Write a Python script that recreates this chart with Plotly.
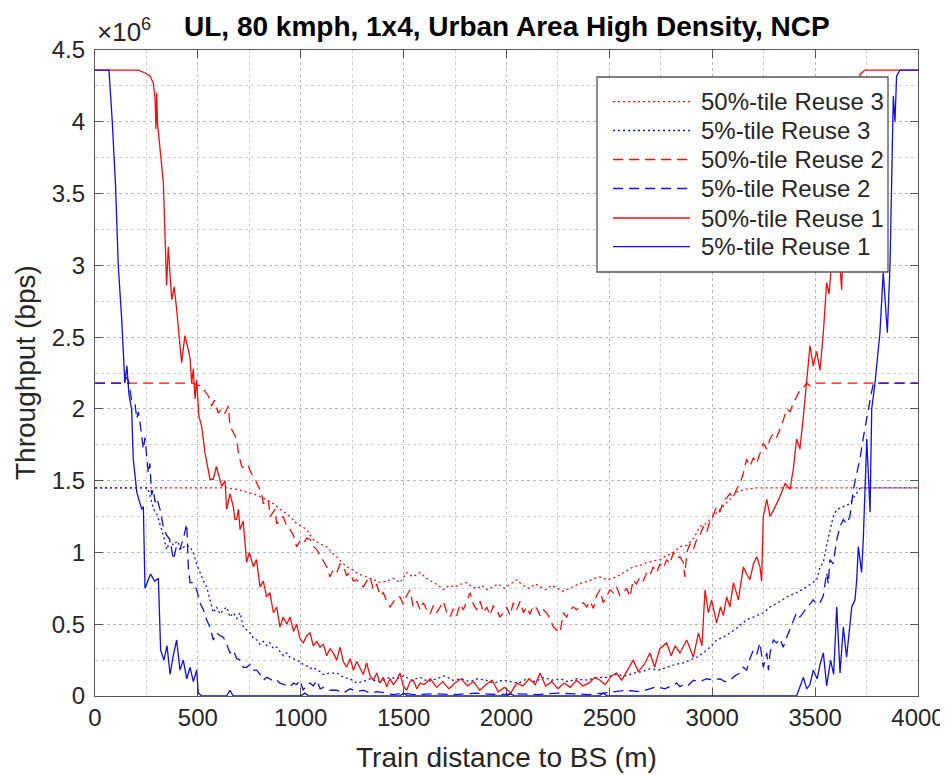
import numpy as np
import plotly.graph_objects as go

# ---------------- data (throughput in units of 1e6 bps, distance in m) ----------------
R3_50 = [(0, 1.45), (640, 1.45), (690, 1.44), (737, 1.42), (786, 1.40), (830, 1.37), (867, 1.34), (900, 1.30),
         (932, 1.27), (955, 1.24), (980, 1.20), (1005, 1.18), (1029, 1.16), (1045, 1.12), (1061, 1.09), (1094, 1.06),
         (1126, 1.04), (1150, 1.00), (1175, 0.97), (1200, 0.93), (1223, 0.90), (1250, 0.88), (1280, 0.85),
         (1320, 0.83), (1350, 0.81), (1385, 0.79), (1420, 0.80), (1450, 0.82), (1482, 0.79), (1515, 0.86),
         (1545, 0.83), (1580, 0.86), (1610, 0.82), (1645, 0.79), (1670, 0.77), (1693, 0.74), (1720, 0.77),
         (1750, 0.76), (1780, 0.78), (1807, 0.79), (1830, 0.76), (1860, 0.75), (1880, 0.77), (1904, 0.74),
         (1930, 0.76), (1960, 0.78), (1990, 0.75), (2020, 0.78), (2049, 0.81), (2080, 0.77), (2110, 0.75),
         (2140, 0.78), (2163, 0.76), (2190, 0.74), (2220, 0.77), (2250, 0.75), (2275, 0.73), (2293, 0.74),
         (2320, 0.76), (2350, 0.78), (2373, 0.79), (2400, 0.80), (2430, 0.82), (2454, 0.83), (2490, 0.81),
         (2535, 0.83), (2570, 0.86), (2616, 0.90), (2650, 0.91), (2681, 0.93), (2710, 0.94), (2746, 0.95),
         (2780, 0.98), (2811, 1.00), (2843, 1.04), (2876, 1.05), (2910, 1.10), (2940, 1.18), (2970, 1.20),
         (3005, 1.25), (3040, 1.30), (3086, 1.37), (3118, 1.42), (3160, 1.44), (3216, 1.45), (4000, 1.45)]

R3_5 = [(0, 1.45), (255, 1.45), (267, 1.40), (285, 1.30), (300, 1.27), (316, 1.20), (332, 1.12), (348, 1.02),
        (365, 1.08), (381, 1.05), (400, 1.08), (420, 1.02), (440, 1.05), (462, 1.04), (478, 1.00), (494, 0.92),
        (510, 0.86), (527, 0.80), (543, 0.76), (559, 0.67), (575, 0.58), (591, 0.62), (608, 0.57), (624, 0.60),
        (640, 0.62), (656, 0.55), (672, 0.58), (689, 0.54), (705, 0.58), (721, 0.48), (737, 0.46), (754, 0.44),
        (770, 0.40), (786, 0.39), (802, 0.36), (818, 0.38), (834, 0.35), (850, 0.37), (867, 0.33), (883, 0.34),
        (899, 0.31), (916, 0.28), (932, 0.30), (948, 0.27), (964, 0.26), (980, 0.25), (996, 0.24), (1012, 0.22),
        (1029, 0.21), (1045, 0.19), (1061, 0.20), (1078, 0.18), (1094, 0.17), (1110, 0.15), (1142, 0.16),
        (1175, 0.16), (1207, 0.13), (1240, 0.12), (1272, 0.09), (1300, 0.10), (1337, 0.12), (1370, 0.10),
        (1401, 0.11), (1434, 0.13), (1466, 0.12), (1500, 0.14), (1540, 0.11), (1580, 0.13), (1620, 0.10),
        (1660, 0.12), (1700, 0.14), (1740, 0.11), (1780, 0.12), (1820, 0.10), (1860, 0.12), (1900, 0.11),
        (1940, 0.09), (1980, 0.11), (2020, 0.10), (2060, 0.09), (2100, 0.12), (2140, 0.10), (2180, 0.13),
        (2220, 0.11), (2260, 0.12), (2300, 0.10), (2340, 0.12), (2380, 0.11), (2420, 0.12), (2454, 0.13),
        (2487, 0.13), (2530, 0.15), (2580, 0.14), (2620, 0.16), (2660, 0.17), (2697, 0.19), (2740, 0.18),
        (2778, 0.20), (2820, 0.22), (2859, 0.23), (2890, 0.25), (2924, 0.27), (2957, 0.30), (2989, 0.34),
        (3021, 0.39), (3054, 0.41), (3086, 0.44), (3118, 0.47), (3140, 0.50), (3167, 0.53), (3200, 0.55),
        (3248, 0.58), (3281, 0.62), (3320, 0.65), (3362, 0.69), (3410, 0.72), (3459, 0.76), (3508, 0.81),
        (3524, 0.90), (3540, 0.93), (3556, 1.05), (3572, 1.16), (3588, 1.25), (3605, 1.30), (3637, 1.32),
        (3669, 1.34), (3686, 1.38), (3702, 1.41), (3720, 1.45), (4000, 1.45)]

R2_50 = [(0, 2.18), (480, 2.18), (486, 2.17), (518, 2.16), (535, 2.12), (551, 2.09), (567, 2.02), (580, 2.06),
         (599, 1.97), (615, 2.00), (632, 1.97), (648, 2.02), (656, 1.88), (670, 1.84), (689, 1.79), (697, 1.69),
         (713, 1.60), (729, 1.58), (745, 1.60), (760, 1.55), (778, 1.51), (794, 1.46), (810, 1.41), (818, 1.34),
         (842, 1.37), (851, 1.25), (875, 1.30), (883, 1.20), (899, 1.22), (915, 1.25), (932, 1.18), (948, 1.16),
         (964, 1.12), (980, 1.04), (996, 1.08), (1012, 1.06), (1029, 1.10), (1045, 1.09), (1061, 1.04),
         (1078, 1.02), (1094, 0.98), (1110, 0.95), (1126, 0.90), (1142, 0.83), (1158, 0.88), (1175, 0.86),
         (1191, 0.92), (1207, 0.90), (1223, 0.84), (1240, 0.86), (1256, 0.80), (1272, 0.81), (1288, 0.78),
         (1304, 0.76), (1320, 0.80), (1337, 0.83), (1353, 0.74), (1369, 0.78), (1385, 0.70), (1401, 0.72),
         (1418, 0.66), (1434, 0.62), (1450, 0.66), (1466, 0.69), (1482, 0.69), (1498, 0.64), (1515, 0.70),
         (1531, 0.74), (1547, 0.62), (1564, 0.66), (1580, 0.60), (1596, 0.65), (1612, 0.60), (1628, 0.57),
         (1645, 0.63), (1661, 0.58), (1677, 0.62), (1693, 0.66), (1710, 0.58), (1726, 0.55), (1742, 0.61),
         (1758, 0.56), (1774, 0.64), (1790, 0.60), (1807, 0.66), (1823, 0.72), (1839, 0.64), (1855, 0.60),
         (1872, 0.66), (1888, 0.58), (1904, 0.62), (1920, 0.56), (1936, 0.63), (1952, 0.60), (1968, 0.55),
         (1985, 0.58), (2001, 0.62), (2017, 0.56), (2033, 0.65), (2049, 0.60), (2066, 0.66), (2082, 0.58),
         (2098, 0.62), (2114, 0.57), (2130, 0.63), (2147, 0.61), (2163, 0.56), (2179, 0.60), (2195, 0.58),
         (2211, 0.54), (2228, 0.48), (2244, 0.46), (2260, 0.44), (2276, 0.58), (2292, 0.55), (2309, 0.60),
         (2325, 0.62), (2341, 0.60), (2357, 0.63), (2373, 0.65), (2390, 0.62), (2406, 0.66), (2422, 0.61),
         (2438, 0.70), (2454, 0.74), (2470, 0.65), (2487, 0.70), (2503, 0.74), (2519, 0.72), (2535, 0.76),
         (2551, 0.70), (2568, 0.72), (2584, 0.75), (2600, 0.69), (2616, 0.81), (2632, 0.78), (2649, 0.83),
         (2665, 0.80), (2681, 0.86), (2697, 0.84), (2713, 0.90), (2730, 0.86), (2746, 0.92), (2762, 0.89),
         (2778, 0.95), (2794, 0.92), (2811, 1.00), (2827, 0.96), (2843, 0.97), (2859, 0.93), (2867, 0.83),
         (2876, 1.00), (2892, 1.06), (2908, 1.02), (2924, 1.09), (2940, 1.12), (2957, 1.18), (2973, 1.14),
         (2989, 1.22), (3005, 1.26), (3021, 1.32), (3037, 1.28), (3054, 1.36), (3070, 1.38), (3086, 1.41),
         (3102, 1.38), (3118, 1.44), (3135, 1.48), (3151, 1.55), (3167, 1.65), (3183, 1.60), (3200, 1.66),
         (3216, 1.62), (3232, 1.69), (3248, 1.76), (3265, 1.72), (3281, 1.79), (3297, 1.83), (3313, 1.80),
         (3329, 1.86), (3345, 1.92), (3362, 2.00), (3378, 1.98), (3394, 2.04), (3410, 2.08), (3426, 2.13),
         (3443, 2.15), (3459, 2.18), (3475, 2.16), (3491, 2.18), (4000, 2.18)]

R2_5 = [(0, 2.18), (135, 2.18), (150, 2.22), (162, 2.20), (178, 2.06), (194, 2.04), (203, 1.93), (211, 1.98),
        (219, 1.90), (227, 1.79), (235, 1.72), (243, 1.80), (251, 1.65), (259, 1.55), (267, 1.62), (275, 1.40),
        (283, 1.44), (292, 1.35), (300, 1.38), (316, 1.30), (332, 1.18), (348, 1.12), (364, 1.09), (381, 0.95),
        (397, 1.05), (413, 1.02), (430, 1.10), (446, 1.20), (454, 0.88), (462, 0.79), (478, 0.79), (494, 0.74),
        (510, 0.65), (527, 0.60), (543, 0.53), (559, 0.48), (575, 0.39), (591, 0.44), (608, 0.42), (624, 0.41),
        (640, 0.36), (656, 0.30), (672, 0.32), (689, 0.26), (705, 0.25), (721, 0.20), (737, 0.20), (754, 0.22),
        (770, 0.18), (786, 0.18), (802, 0.15), (818, 0.11), (834, 0.13), (850, 0.12), (867, 0.10), (883, 0.11),
        (899, 0.09), (916, 0.08), (932, 0.07), (948, 0.065), (964, 0.09), (980, 0.08), (996, 0.11), (1012, 0.04),
        (1029, 0.08), (1045, 0.09), (1061, 0.07), (1078, 0.11), (1094, 0.05), (1110, 0.06), (1142, 0.04),
        (1175, 0.04), (1207, 0.02), (1240, 0.05), (1272, 0.03), (1304, 0.04), (1337, 0.02), (1370, 0.03),
        (1418, 0.02), (1450, 0.01), (1500, 0.02), (1550, 0.01), (1650, 0.015), (1750, 0.01), (1850, 0.02),
        (1950, 0.01), (2050, 0.015), (2150, 0.01), (2250, 0.02), (2350, 0.01), (2400, 0.01), (2470, 0.02),
        (2530, 0.03), (2584, 0.04), (2650, 0.03), (2700, 0.05), (2730, 0.065), (2770, 0.05), (2800, 0.07),
        (2827, 0.09), (2843, 0.065), (2860, 0.08), (2880, 0.07), (2908, 0.11), (2940, 0.10), (2973, 0.12),
        (3005, 0.11), (3037, 0.12), (3060, 0.10), (3086, 0.11), (3110, 0.14), (3135, 0.16), (3151, 0.20),
        (3167, 0.18), (3183, 0.26), (3200, 0.32), (3216, 0.29), (3232, 0.37), (3248, 0.20), (3265, 0.30),
        (3273, 0.18), (3281, 0.30), (3297, 0.39), (3313, 0.37), (3329, 0.40), (3345, 0.34), (3362, 0.41),
        (3378, 0.47), (3394, 0.53), (3410, 0.58), (3426, 0.55), (3443, 0.58), (3459, 0.62), (3475, 0.64),
        (3491, 0.67), (3508, 0.64), (3524, 0.65), (3540, 0.70), (3556, 0.86), (3564, 0.78), (3572, 0.95),
        (3588, 0.92), (3605, 1.09), (3621, 1.18), (3637, 1.23), (3653, 1.20), (3669, 1.25), (3686, 1.44),
        (3702, 1.55), (3718, 1.65), (3734, 1.80), (3751, 1.95), (3767, 2.06), (3783, 2.18), (4000, 2.18)]

R1_50 = [(0, 4.36), (211, 4.36), (243, 4.34), (267, 4.32), (283, 4.27), (292, 4.16), (296, 3.95), (300, 4.20),
         (304, 3.98), (308, 3.93), (332, 3.58), (340, 3.18), (348, 2.86), (356, 3.13), (373, 2.76), (385, 2.85),
         (397, 2.69), (421, 2.32), (437, 2.51), (454, 2.41), (462, 2.35), (470, 2.18), (478, 2.28), (486, 2.07),
         (494, 2.20), (505, 1.95), (518, 1.88), (535, 1.69), (547, 1.60), (559, 1.51), (575, 1.51), (590, 1.60),
         (599, 1.55), (616, 1.46), (632, 1.50), (640, 1.30), (656, 1.41), (672, 1.32), (680, 1.23), (689, 1.23),
         (697, 1.30), (705, 1.16), (720, 1.22), (737, 0.93), (750, 1.00), (770, 0.90), (785, 0.95), (802, 0.76),
         (818, 0.80), (834, 0.69), (850, 0.72), (867, 0.58), (883, 0.62), (899, 0.48), (915, 0.55), (932, 0.50),
         (948, 0.55), (965, 0.45), (980, 0.50), (996, 0.40), (1012, 0.37), (1029, 0.42), (1045, 0.44),
         (1061, 0.35), (1078, 0.38), (1094, 0.34), (1110, 0.36), (1126, 0.28), (1142, 0.33), (1158, 0.30),
         (1175, 0.25), (1191, 0.34), (1207, 0.24), (1223, 0.20), (1240, 0.26), (1256, 0.18), (1272, 0.24),
         (1288, 0.20), (1304, 0.15), (1320, 0.23), (1337, 0.14), (1353, 0.11), (1369, 0.16), (1385, 0.09),
         (1401, 0.13), (1418, 0.065), (1434, 0.12), (1450, 0.08), (1466, 0.11), (1482, 0.16), (1498, 0.07),
         (1515, 0.04), (1531, 0.10), (1547, 0.11), (1564, 0.05), (1580, 0.09), (1600, 0.08), (1630, 0.12),
         (1660, 0.06), (1690, 0.10), (1720, 0.05), (1750, 0.09), (1780, 0.12), (1810, 0.07), (1840, 0.10),
         (1870, 0.04), (1900, 0.08), (1930, 0.11), (1960, 0.03), (1990, 0.06), (2020, 0.02), (2050, 0.09),
         (2080, 0.07), (2110, 0.12), (2140, 0.08), (2163, 0.16), (2190, 0.07), (2220, 0.10), (2250, 0.05),
         (2280, 0.09), (2310, 0.06), (2340, 0.11), (2370, 0.07), (2400, 0.09), (2430, 0.13), (2454, 0.11),
         (2480, 0.08), (2510, 0.14), (2535, 0.16), (2560, 0.11), (2590, 0.19), (2616, 0.25), (2640, 0.17),
         (2670, 0.22), (2697, 0.30), (2720, 0.20), (2745, 0.33), (2778, 0.37), (2800, 0.28), (2820, 0.35),
         (2843, 0.30), (2876, 0.39), (2908, 0.27), (2933, 0.44), (2950, 0.35), (2965, 0.74), (2981, 0.58),
         (2997, 0.67), (3021, 0.51), (3040, 0.62), (3054, 0.56), (3070, 0.69), (3086, 0.62), (3103, 0.79),
         (3127, 0.67), (3151, 0.90), (3167, 0.85), (3183, 0.81), (3200, 0.92), (3216, 0.97), (3232, 0.90),
         (3240, 0.80), (3248, 1.25), (3265, 1.37), (3281, 1.25), (3300, 1.30), (3329, 1.39), (3354, 1.48),
         (3378, 1.44), (3394, 1.58), (3410, 1.79), (3426, 1.72), (3443, 1.95), (3459, 2.18), (3475, 2.44),
         (3491, 2.30), (3507, 2.40), (3524, 2.27), (3540, 2.53), (3556, 2.88), (3568, 2.80), (3580, 3.02),
         (3600, 3.30), (3615, 3.10), (3629, 2.83), (3640, 3.40), (3660, 3.70), (3680, 3.85), (3700, 4.10),
         (3718, 4.33), (3742, 4.36), (4000, 4.36)]

R1_5 = [(0, 4.36), (68, 4.36), (84, 4.00), (100, 3.55), (113, 3.00), (130, 2.62), (145, 2.18), (155, 2.30),
        (165, 2.10), (178, 2.00), (186, 1.65), (203, 1.42), (227, 1.30), (235, 1.32), (243, 0.75), (258, 0.80),
        (270, 0.85), (290, 0.80), (308, 0.82), (319, 0.32), (335, 0.25), (350, 0.35), (365, 0.15), (380, 0.28),
        (397, 0.39), (413, 0.18), (429, 0.25), (446, 0.12), (462, 0.20), (478, 0.10), (494, 0.18), (502, 0.02),
        (520, 0.0), (600, 0.0), (640, 0.0), (656, 0.04), (672, 0.0), (1000, 0.0), (1020, 0.02), (1040, 0.0),
        (1480, 0.0), (1500, 0.02), (1520, 0.0), (2000, 0.0), (2020, 0.015), (2040, 0.0), (2450, 0.0),
        (2470, 0.02), (2490, 0.0), (3410, 0.0), (3426, 0.06), (3443, 0.13), (3459, 0.05), (3475, 0.08),
        (3491, 0.18), (3510, 0.12), (3524, 0.22), (3540, 0.30), (3556, 0.07), (3575, 0.25), (3590, 0.15),
        (3605, 0.62), (3621, 0.16), (3637, 0.48), (3653, 0.27), (3665, 0.45), (3678, 0.62), (3694, 0.67),
        (3702, 0.81), (3710, 1.04), (3726, 0.86), (3734, 1.09), (3743, 1.46), (3751, 1.79), (3767, 1.28),
        (3775, 2.00), (3791, 2.18), (3815, 2.53), (3831, 2.95), (3851, 2.53), (3864, 3.00), (3872, 3.58),
        (3880, 4.18), (3888, 4.00), (3896, 4.32), (3912, 4.36), (4000, 4.36)]

SERIES = [
    ("50%-tile Reuse 3", R3_50, "red", "dot"),
    ("5%-tile Reuse 3", R3_5, "blue", "dot"),
    ("50%-tile Reuse 2", R2_50, "red", "dash"),
    ("5%-tile Reuse 2", R2_5, "blue", "dash"),
    ("50%-tile Reuse 1", R1_50, "red", "solid"),
    ("5%-tile Reuse 1", R1_5, "blue", "solid"),
]

X_TICKS = [0, 500, 1000, 1500, 2000, 2500, 3000, 3500, 4000]
Y_TICKS = [0, 0.5, 1, 1.5, 2, 2.5, 3, 3.5, 4, 4.5]
Y_TICK_TEXT = ["0", "0.5", "1", "1.5", "2", "2.5", "3", "3.5", "4", "4.5"]

TITLE = "UL, 80 kmph, 1x4, Urban Area High Density, NCP"
XLABEL = "Train distance to BS (m)"
YLABEL = "Throughput (bps)"

# ---------------- styling ----------------
COLORS = {"red": "#f20f0f", "blue": "#1010e0"}
DASHES = {"dot": "2px,3px", "dash": "10px,6px", "solid": "solid"}
FONT = "Liberation Sans, Arial, sans-serif"
AXCOL = "#555555"
TXTCOL = "#262626"
GRIDCOL = "rgba(160,160,160,0.5)"

# page body has an 8px default margin; the figure is sized so the plot area
# lands at x 95..918, y 50..696 of the 948x775 window
FIG_W, FIG_H = 940, 767
M_L, M_R, M_T, M_B = 87, 30, 42, 79

fig = go.Figure()
for name, pts, col, dash in SERIES:
    arr = np.array(pts, dtype=float)
    fig.add_trace(go.Scatter(
        x=arr[:, 0], y=arr[:, 1] * 1e6, mode="lines", name=name,
        line=dict(color=COLORS[col], width=1.3, dash=DASHES[dash]),
        showlegend=False, hoverinfo="skip"))

axis_common = dict(
    showline=True, linecolor=AXCOL, linewidth=1.3, mirror="ticks",
    ticks="inside", ticklen=8, tickwidth=1.2, tickcolor=AXCOL,
    showgrid=True, gridcolor=GRIDCOL, griddash="dot", gridwidth=1,
    zeroline=False, layer="below traces", automargin=False,
    tickfont=dict(family=FONT, size=24, color=TXTCOL),
)

fig.update_xaxes(range=[0, 4000], tickvals=X_TICKS, ticktext=[str(v) for v in X_TICKS],
                 minor=dict(dtick=250, showgrid=True, gridcolor=GRIDCOL, griddash="dot", ticks=""),
                 **axis_common)
fig.update_yaxes(range=[0, 4.5e6], tickvals=[v * 1e6 for v in Y_TICKS], ticktext=Y_TICK_TEXT,
                 minor=dict(dtick=0.25e6, showgrid=True, gridcolor=GRIDCOL, griddash="dot", ticks=""),
                 ticklabelstandoff=4, **axis_common)

annotations = [
    dict(text="<b>" + TITLE + "</b>", x=0.5, xref="paper", y=1.0, yref="paper", yanchor="bottom", yshift=6,
         showarrow=False, font=dict(family=FONT, size=28, color="black")),
    dict(text=XLABEL, x=0.5, xref="paper", y=0, yref="paper", yanchor="middle", yshift=-61, showarrow=False,
         font=dict(family=FONT, size=28, color=TXTCOL)),
    dict(text=YLABEL, x=0, xref="paper", xanchor="center", xshift=-70, y=0.5, yref="paper", textangle=-90,
         showarrow=False, font=dict(family=FONT, size=28, color=TXTCOL)),
    dict(text="×10<sup>6</sup>", x=0, xref="paper", y=1, yref="paper", xanchor="left", yanchor="bottom",
         yshift=1, xshift=0, showarrow=False, font=dict(family=FONT, size=26, color=TXTCOL)),
]

# MATLAB-style legend box (legend entries are drawn as shapes + text)
plot_w, plot_h = 823.0, 646.0
def px_x(px):
    return (px - 95) / plot_w
def px_y(py):
    return (696 - py) / plot_h

shapes = [dict(type="rect", xref="paper", yref="paper", x0=px_x(597), x1=px_x(888), y0=px_y(272), y1=px_y(77),
               line=dict(color=AXCOL, width=1.3), fillcolor="white", layer="above")]
rows = [101.7, 130.5, 159.5, 188.5, 218, 246.7]
for (name, pts, col, dash), ry in zip(SERIES, rows):
    shapes.append(dict(type="line", xref="paper", yref="paper", x0=px_x(613), x1=px_x(690),
                       y0=px_y(ry), y1=px_y(ry), layer="above",
                       line=dict(color=COLORS[col], width=1.3, dash=DASHES[dash])))
    annotations.append(dict(text=name, x=px_x(699), y=px_y(ry), xref="paper", yref="paper",
                            xanchor="left", yanchor="middle", showarrow=False,
                            font=dict(family=FONT, size=24, color=TXTCOL)))

fig.update_layout(
    width=FIG_W, height=FIG_H,
    margin=dict(l=M_L, r=M_R, t=M_T, b=M_B),
    paper_bgcolor="white", plot_bgcolor="white",
    showlegend=False,
    annotations=annotations, shapes=shapes,
)

fig.write_html("out.html")
